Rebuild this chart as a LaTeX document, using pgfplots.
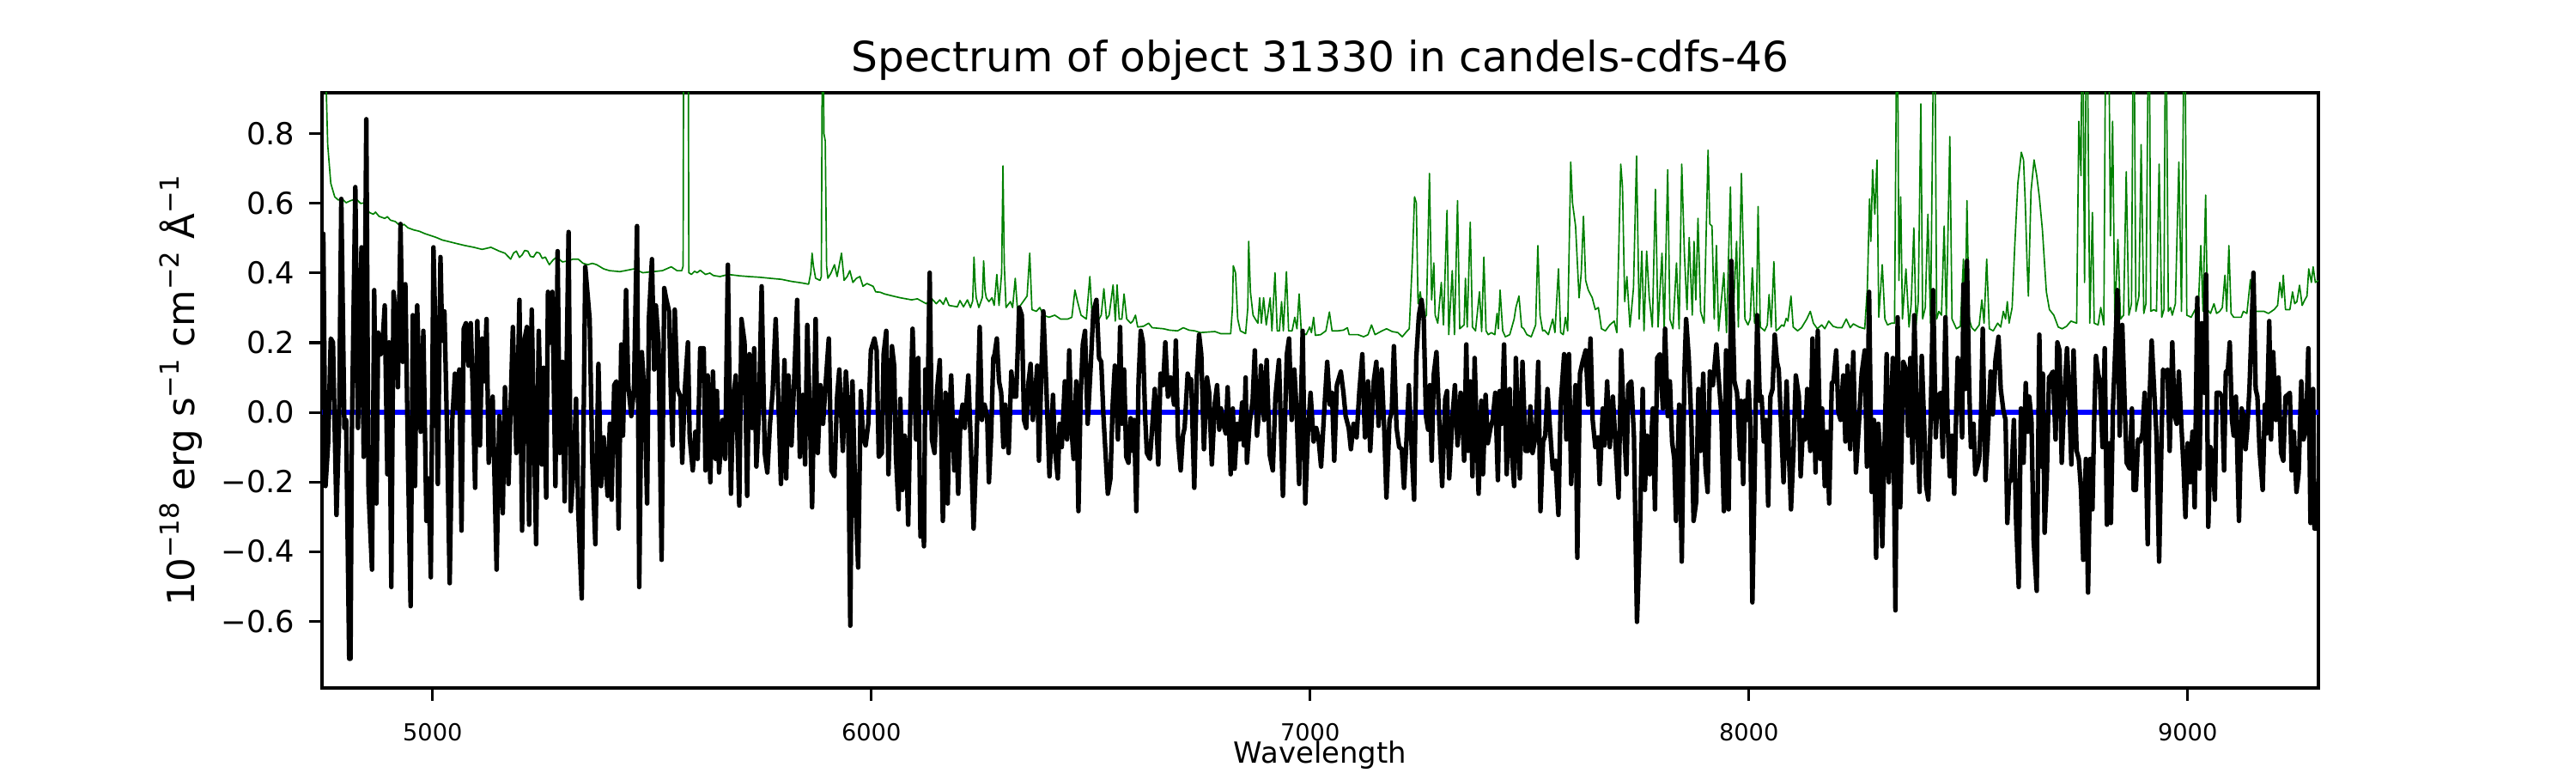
\documentclass[border=0pt]{standalone}
\usepackage{fontspec}
\setmainfont{DejaVu Sans}
\usepackage{pgfplots}
\pgfplotsset{compat=1.18}
\definecolor{mplgreen}{rgb}{0,0.5,0}
\newcommand\sups[1]{\raisebox{0.42em}{\fontsize{11}{11}\selectfont #1}}
\begin{document}
\begin{tikzpicture}
\path[use as bounding box] (-135pt,-35.64pt) rectangle (945pt,288.36pt);
\begin{axis}[
  at={(0,0)}, anchor=south west, scale only axis,
  width=837pt, height=249.48pt,
  xmin=4748, xmax=9298, ymin=-0.792, ymax=0.918,
  axis line style={line width=1.1pt},
  tick align=outside, tick pos=left,
  major tick length=5.4pt,
  every tick/.style={black, line width=1.1pt},
  xtick={5000,6000,7000,8000,9000},
  xticklabels={5000,6000,7000,8000,9000},
  ytick={-0.6,-0.4,-0.2,0,0.2,0.4,0.6,0.8},
  yticklabels={−0.6,−0.4,−0.2,0.0,0.2,0.4,0.6,0.8},
  xticklabel style={font=\fontsize{9.8}{10}\selectfont, anchor=base, inner sep=0pt, yshift=-16.6pt},
  yticklabel style={font=\fontsize{12.7}{13}\selectfont, anchor=east, inner sep=0pt, xshift=-5.8pt},
  title={Spectrum of object 31330 in candels-cdfs-46},
  title style={at={(axis description cs:0.5,1)}, anchor=base, yshift=2.8pt, font=\fontsize{17.5}{20}\selectfont},
  xlabel={Wavelength},
  xlabel style={at={(axis description cs:0.5,0)}, anchor=base, yshift=-31.6pt, font=\fontsize{12.2}{14}\selectfont},
  ylabel={10\sups{−18} erg s\sups{−1} cm\sups{−2} Å\sups{−1}},
  ylabel style={at={(axis description cs:-0.0637,0.5)}, anchor=base, font=\fontsize{15.7}{18}\selectfont},
  clip=true,
]
% green (error / sky) spectrum
\addplot[mplgreen, line width=0.6pt, line join=round] coordinates {
(4748,1.3)(4758,0.914)(4761,0.769)(4768,0.658)(4777,0.619)(4785,0.610)(4794,0.613)(4803,0.602)(4813,0.608)(4826,0.613)(4836,0.600)(4846,0.602)(4851,0.585)(4856,0.574)(4865,0.569)(4870,0.575)(4878,0.563)(4891,0.557)(4897,0.562)(4904,0.552)(4915,0.548)(4927,0.535)(4935,0.540)(4944,0.530)(4957,0.524)(4970,0.520)(4983,0.513)(4995,0.508)(5009,0.502)(5022,0.495)(5035,0.491)(5054,0.485)(5074,0.479)(5094,0.474)(5113,0.468)(5133,0.474)(5152,0.463)(5165,0.457)(5178,0.440)(5185,0.458)(5191,0.463)(5198,0.445)(5204,0.452)(5210,0.465)(5217,0.463)(5223,0.448)(5230,0.446)(5237,0.460)(5244,0.457)(5250,0.442)(5257,0.446)(5266,0.424)(5275,0.438)(5283,0.446)(5296,0.432)(5309,0.435)(5320,0.440)(5332,0.440)(5343,0.428)(5354,0.424)(5364,0.428)(5374,0.424)(5390,0.412)(5403,0.407)
(5427,0.404)(5459,0.412)(5479,0.401)(5510,0.405)(5524,0.407)(5544,0.418)(5557,0.407)(5568,0.407)(5571,0.42)(5573,1.5)(5582,1.5)(5584,0.401)(5590,0.396)(5597,0.405)(5603,0.401)(5610,0.408)(5622,0.396)(5632,0.400)(5640,0.393)(5655,0.390)(5674,0.396)(5700,0.392)(5720,0.390)(5745,0.388)(5769,0.385)(5795,0.382)(5818,0.376)(5840,0.372)(5857,0.368)(5862,0.400)(5865,0.457)(5868,0.42)(5873,0.385)(5883,0.379)(5886,0.390)(5889,1.3)(5892,0.80)(5895,0.78)(5898,0.42)(5901,0.385)(5908,0.40)(5916,0.424)(5922,0.390)(5932,0.457)(5938,0.379)(5945,0.39)(5951,0.407)(5958,0.373)(5966,0.385)(5974,0.390)(5981,0.362)(5990,0.37)(6004,0.362)(6010,0.346)(6020,0.345)(6030,0.340)(6049,0.334)
(6066,0.329)(6092,0.323)(6105,0.326)(6125,0.312)(6138,0.326)(6148,0.312)(6156,0.323)(6164,0.310)(6170,0.329)(6177,0.307)(6196,0.303)(6202,0.321)(6210,0.303)(6219,0.323)(6226,0.301)(6231,0.32)(6234,0.446)(6237,0.36)(6239,0.329)(6245,0.301)(6253,0.33)(6256,0.435)(6259,0.35)(6262,0.329)(6268,0.318)(6275,0.329)(6280,0.307)(6286,0.396)(6291,0.307)(6297,0.40)(6300,0.708)(6303,0.424)(6307,0.301)(6317,0.318)(6322,0.301)(6328,0.385)(6333,0.295)(6346,0.318)(6355,0.334)(6361,0.457)(6366,0.295)(6376,0.290)(6384,0.301)(6392,0.279)(6405,0.273)(6418,0.279)(6431,0.268)(6448,0.268)(6457,0.273)(6464,0.351)(6470,0.318)(6478,0.279)(6490,0.268)(6498,0.390)(6503,0.279)(6508,0.268)(6519,0.268)(6524,0.279)(6530,0.355)(6536,0.268)(6542,0.279)(6551,0.366)(6556,0.262)(6560,0.366)(6565,0.268)(6571,0.268)(6576,0.340)(6582,0.268)(6591,0.256)(6596,0.262)(6602,0.279)(6607,0.245)(6620,0.247)(6632,0.256)(6640,0.243)(6666,0.240)(6679,0.236)
(6698,0.234)(6711,0.243)(6724,0.236)(6737,0.234)(6750,0.229)(6783,0.232)(6796,0.226)(6819,0.226)(6823,0.30)(6825,0.421)(6830,0.401)(6835,0.268)(6841,0.234)(6853,0.226)(6858,0.30)(6860,0.491)(6864,0.346)(6870,0.279)(6875,0.268)(6881,0.256)(6885,0.329)(6889,0.256)(6894,0.329)(6900,0.251)(6909,0.329)(6913,0.234)(6920,0.401)(6925,0.234)(6930,0.234)(6935,0.318)(6939,0.234)(6946,0.404)(6951,0.234)(6959,0.234)(6965,0.273)(6970,0.240)(6975,0.340)(6980,0.229)(6991,0.223)(6999,0.245)(7003,0.229)(7008,0.273)(7012,0.221)(7024,0.223)(7036,0.234)(7044,0.288)(7050,0.234)(7063,0.234)(7076,0.236)(7085,0.243)(7089,0.223)(7109,0.223)(7122,0.217)(7132,0.223)(7140,0.251)(7148,0.223)(7161,0.232)(7174,0.240)(7187,0.232)(7200,0.229)(7210,0.217)(7220,0.232)(7226,0.240)(7233,0.435)(7238,0.619)(7242,0.602)(7246,0.312)(7251,0.346)(7259,0.268)(7265,0.279)(7272,0.686)(7277,0.323)(7282,0.429)(7285,0.279)(7291,0.256)(7299,0.373)(7304,0.251)(7312,0.580)(7316,0.223)(7324,0.407)(7329,0.223)(7336,0.608)
(7341,0.240)(7351,0.251)(7354,0.385)(7358,0.245)(7365,0.546)(7370,0.245)(7377,0.234)(7386,0.346)(7391,0.232)(7396,0.446)(7401,0.234)(7406,0.223)(7413,0.229)(7421,0.223)(7426,0.284)(7429,0.240)(7433,0.351)(7439,0.234)(7445,0.217)(7455,0.223)(7465,0.268)(7469,0.301)(7476,0.334)(7482,0.245)(7487,0.240)(7494,0.223)(7504,0.217)(7514,0.251)(7519,0.479)(7524,0.279)(7530,0.234)(7534,0.236)(7543,0.223)(7553,0.268)(7558,0.229)(7566,0.412)(7571,0.229)(7577,0.223)(7582,0.273)(7587,0.234)(7594,0.719)(7598,0.602)(7605,0.535)(7613,0.329)(7618,0.401)(7623,0.563)(7628,0.379)(7634,0.351)(7643,0.329)(7650,0.295)(7657,0.301)(7664,0.240)(7673,0.234)(7683,0.251)(7693,0.262)(7699,0.229)(7708,0.713)(7712,0.647)(7717,0.318)(7722,0.390)(7729,0.245)(7737,0.357)(7744,0.736)(7750,0.268)(7756,0.463)(7761,0.234)(7767,0.463)(7773,0.329)(7780,0.245)(7787,0.641)(7793,0.245)(7802,0.457)(7807,0.234)(7815,0.697)(7820,0.268)(7827,0.240)(7835,0.429)(7841,0.240)(7847,0.713)(7853,0.457)(7859,0.295)(7864,0.502)(7871,0.279)(7875,0.491)(7879,0.323)(7884,0.557)(7890,0.290)(7898,0.256)(7907,0.753)(7911,0.541)(7916,0.535)(7921,0.268)(7926,0.479)(7931,0.234)(7943,0.401)(7949,0.229)(7958,0.647)(7963,0.245)(7972,0.491)(7976,0.245)(7983,0.686)
(7991,0.268)(7998,0.251)(8003,0.268)(8008,0.415)(8013,0.256)(8017,0.268)(8021,0.591)(8026,0.245)(8036,0.234)(8042,0.251)(8046,0.338)(8051,0.245)(8057,0.433)(8062,0.234)(8068,0.240)(8075,0.251)(8080,0.247)(8085,0.270)(8089,0.262)(8096,0.334)(8101,0.245)(8111,0.234)(8120,0.243)(8132,0.268)(8140,0.290)(8147,0.256)(8156,0.240)(8166,0.251)(8173,0.240)(8182,0.262)(8192,0.247)(8202,0.243)(8212,0.243)(8222,0.268)(8231,0.243)(8238,0.254)(8251,0.245)(8264,0.240)(8270,0.357)(8275,0.613)(8278,0.491)(8282,0.697)(8287,0.569)(8292,0.725)(8296,0.273)(8304,0.424)(8310,0.268)(8316,0.251)(8325,0.256)(8332,0.256)(8338,1.3)(8342,0.379)(8346,0.619)(8350,0.268)(8358,0.412)(8365,0.245)(8370,0.312)(8376,0.530)(8381,0.251)(8386,0.318)(8392,0.886)(8396,0.268)(8402,0.301)(8408,0.569)(8414,0.256)(8423,1.3)(8428,0.268)(8433,0.290)(8439,0.279)(8445,0.535)(8450,0.268)(8458,0.792)(8463,0.268)(8473,0.240)(8482,0.247)(8489,0.440)(8493,0.256)(8497,0.608)(8502,0.268)(8508,0.243)(8515,0.234)(8525,0.251)(8531,0.323)(8536,0.256)(8542,0.440)(8548,0.240)(8557,0.234)(8567,0.256)(8574,0.245)(8580,0.290)(8585,0.268)(8589,0.318)(8593,0.256)(8600,0.301)(8606,0.479)(8613,0.658)(8621,0.747)(8626,0.725)(8630,0.60)(8634,0.43)(8637,0.334)(8643,0.635)(8650,0.725)(8656,0.680)(8662,0.619)(8669,0.524)(8674,0.424)(8678,0.346)(8685,0.295)(8695,0.279)(8705,0.245)(8714,0.240)(8724,0.247)(8734,0.262)(8747,0.256)
(8752,0.836)(8757,0.680)(8760,1.3)(8765,0.373)(8770,1.3)(8777,0.256)(8783,0.574)(8787,0.256)(8796,0.251)(8802,0.301)(8809,0.251)(8814,1.3)(8819,1.3)(8824,0.507)(8829,0.836)(8834,0.268)(8841,0.496)(8847,0.268)(8854,0.279)(8860,0.691)(8866,0.279)(8872,0.312)(8877,1.3)(8882,0.290)(8889,0.334)(8894,0.769)(8900,0.284)(8905,0.312)(8912,1.3)(8916,0.290)(8923,0.295)(8929,0.290)(8935,0.713)(8941,0.273)(8946,0.295)(8950,1.3)(8956,0.290)(8961,0.301)(8965,0.279)(8972,0.312)(8980,0.719)(8986,0.290)(8993,1.3)(8998,0.279)(9008,0.273)(9017,0.295)(9024,0.290)(9030,0.479)(9035,0.290)(9041,0.624)(9045,0.295)(9052,0.284)(9060,0.312)(9066,0.284)(9073,0.290)(9079,0.301)(9085,0.394)(9089,0.290)(9094,0.479)(9099,0.284)(9105,0.273)(9115,0.273)(9122,0.273)(9127,0.290)(9135,0.284)(9143,0.381)(9148,0.312)(9152,0.290)(9164,0.290)(9174,0.290)(9184,0.284)(9197,0.295)(9205,0.307)(9210,0.373)(9215,0.329)(9218,0.394)(9223,0.295)(9233,0.295)(9239,0.346)(9244,0.312)(9249,0.318)(9255,0.365)(9261,0.307)(9267,0.323)(9272,0.334)(9276,0.412)(9282,0.373)(9286,0.418)(9291,0.373)(9298,0.379)
};
% blue model (zero)
\addplot[blue, line width=2pt] coordinates {(4748,0) (9298,0)};
% black observed spectrum
\addplot[black, line width=1.9pt, line join=round] coordinates {
(4748,0.513)(4751,0.513)(4756,-0.212)(4762,-0.089)(4768,0.212)(4773,0.201)(4781,-0.295)(4787,-0.033)(4792,0.613)(4799,-0.045)(4803,-0.022)(4810,-0.708)(4813,-0.708)(4816,-0.067)(4824,0.647)(4830,-0.045)(4838,0.474)(4843,-0.128)(4849,0.842)(4854,-0.223)(4862,-0.452)(4867,0.351)(4872,-0.262)(4876,0.229)(4882,0.167)(4886,0.201)(4891,0.307)(4897,-0.178)(4901,0.201)(4906,-0.502)(4911,0.346)(4916,0.279)(4921,0.072)(4927,0.541)(4932,0.145)(4938,0.368)(4944,-0.139)(4950,-0.557)(4955,0.279)(4960,-0.212)(4965,0.307)(4973,-0.056)(4979,0.234)(4986,-0.312)(4991,-0.190)(4996,-0.474)(5002,0.474)(5007,0.201)(5012,-0.206)(5018,0.446)(5022,0.206)(5027,0.290)(5033,-0.05)(5039,-0.491)(5045,-0.022)(5051,0.111)(5056,0.011)(5061,0.123)(5066,-0.340)(5071,0.240)(5076,0.256)(5082,0.134)(5087,0.256)(5092,0.045)(5097,-0.217)(5102,0.262)(5108,-0.095)(5113,0.212)(5118,0.089)(5123,0.268)(5128,-0.145)(5137,0.045)(5146,-0.452)(5152,-0.011)(5160,-0.290)(5165,0.072)(5173,-0.206)(5183,0.245)(5191,-0.117)(5198,0.323)(5204,-0.340)(5210,0.212)(5215,0.245)(5220,-0.323)(5226,0.295)(5236,-0.379)(5242,0.234)(5249,-0.150)(5253,0.128)(5259,-0.245)(5263,0.346)(5268,0.2)(5273,0.346)(5280,-0.212)(5285,0.463)(5290,-0.117)(5296,0.145)(5301,-0.256)(5310,0.518)(5315,-0.284)(5322,-0.150)(5327,0.039)(5332,-0.284)(5340,-0.535)(5348,0.418)(5358,0.268)(5364,-0.139)(5371,-0.379)(5378,0.139)(5384,-0.212)(5390,-0.072)(5399,-0.240)
(5404,-0.033)(5408,-0.251)(5414,0.078)(5419,0.089)(5424,-0.334)(5430,0.195)(5434,-0.067)(5441,0.351)(5446,0.078)(5453,-0.011)(5459,0.067)(5466,0.535)(5471,-0.502)(5477,0.173)(5483,0.045)(5489,-0.262)(5493,0.268)(5500,0.440)(5505,0.123)(5509,0.307)(5515,0.201)(5522,-0.424)(5528,0.357)(5532,0.329)(5539,0.290)(5543,0.061)(5547,-0.095)(5552,0.295)(5558,0.067)(5565,0.045)(5569,-0.145)(5575,0.067)(5582,0.201)(5586,-0.072)(5593,-0.167)(5599,-0.056)(5604,-0.134)(5610,0.184)(5618,0.184)(5622,-0.167)(5627,0.106)(5633,-0.201)(5639,0.117)(5645,-0.134)(5648,0.061)(5653,-0.173)(5661,-0.022)(5667,-0.134)(5673,0.424)(5680,-0.234)(5685,0.033)(5691,0.106)(5699,-0.268)(5704,0.268)(5711,0.201)(5717,-0.240)(5722,0.167)(5728,-0.045)(5733,0.184)(5738,-0.156)(5744,0.006)(5750,0.362)(5757,-0.117)(5763,-0.173)(5769,-0.033)(5775,0.056)(5782,0.268)(5788,0.045)(5794,-0.206)(5802,0.150)(5806,-0.190)(5811,0.106)(5818,-0.095)(5824,0.089)(5831,0.323)(5837,-0.128)(5844,0.050)(5849,-0.150)(5854,0.251)(5860,-0.011)(5865,-0.273)(5873,0.268)(5878,-0.117)(5884,0.078)(5890,-0.033)(5896,0.084)(5903,0.212)(5909,-0.167)(5916,-0.184)(5922,0.045)(5927,0.123)(5935,-0.111)(5942,0.117)(5947,0.017)(5952,-0.613)(5957,0.089)(5963,-0.223)(5970,-0.446)(5976,0.061)(5981,-0.072)(5987,-0.095)(5993,-0.033)(5999,0.178)(6007,0.212)(6012,0.178)(6017,-0.128)(6024,-0.117)(6028,0.167)(6034,0.234)(6039,-0.178)
(6047,0.190)(6052,0.134)(6056,-0.123)(6062,-0.279)(6066,0.039)(6071,-0.223)(6076,-0.067)(6080,-0.123)(6084,-0.323)(6089,0.011)(6094,0.240)(6099,0.045)(6102,-0.078)(6107,0.156)(6112,-0.357)(6117,-0.290)(6120,-0.385)(6123,0.123)(6128,0.011)(6133,0.401)(6138,-0.078)(6144,-0.117)(6150,0.067)(6156,0.150)(6163,-0.312)(6169,0.056)(6174,-0.262)(6178,-0.011)(6182,0.106)(6189,-0.167)(6193,-0.022)(6198,-0.234)(6203,-0.022)(6208,0.022)(6213,-0.045)(6221,0.106)(6227,-0.100)(6233,-0.334)(6239,-0.123)(6247,0.245)(6252,-0.022)(6258,0.022)(6264,-0.011)(6268,-0.201)(6273,-0.067)(6278,0.156)(6281,0.167)(6286,0.212)(6291,0.089)(6296,0.056)(6301,-0.100)(6305,0.022)(6313,-0.117)(6319,0.117)(6325,0.045)(6330,0.045)(6337,0.301)(6343,0.279)(6348,-0.022)(6353,-0.045)(6358,0.084)(6363,0.139)(6368,-0.022)(6373,0.045)(6378,0.134)(6382,-0.139)(6388,0.134)(6392,0.290)(6399,0.067)(6406,-0.184)(6414,0.050)(6418,-0.100)(6425,-0.190)(6429,-0.033)(6434,-0.100)(6441,0.089)(6446,-0.078)(6451,0.178)(6456,-0.045)(6461,-0.134)(6467,0.089)(6472,-0.284)(6477,0.045)(6482,0.195)(6487,0.234)(6493,-0.033)(6500,0.134)(6506,0.290)(6513,0.323)(6519,0.156)(6524,0.145)(6529,-0.011)(6534,-0.123)(6539,-0.234)(6545,-0.190)(6550,0.022)(6555,0.134)(6562,-0.078)(6567,0.245)(6571,-0.033)(6576,0.123)(6581,-0.128)(6586,-0.145)(6591,-0.017)(6596,-0.111)(6599,-0.022)(6604,-0.284)(6609,0.089)(6614,0.234)(6619,0.201)(6624,-0.011)(6628,-0.117)(6635,-0.134)(6640,-0.045)(6646,0.067)(6654,-0.150)(6659,0.111)(6665,0.078)(6670,0.201)(6676,0.045)(6682,0.100)(6690,0.022)
(6694,0.206)(6699,-0.078)(6705,-0.167)(6710,-0.067)(6714,-0.045)(6721,0.111)(6725,0.089)(6729,0.095)(6736,-0.217)(6742,0.111)(6747,0.223)(6752,0.167)(6758,-0.106)(6765,0.100)(6770,0.056)(6776,-0.150)(6783,0.028)(6788,0.078)(6793,-0.050)(6797,0.011)(6802,-0.033)(6808,-0.061)(6812,0.072)(6819,-0.178)(6824,0.011)(6828,-0.162)(6834,-0.033)(6839,-0.078)(6845,0.028)(6849,-0.095)(6853,0.100)(6856,-0.145)(6862,-0.033)(6869,0.033)(6874,0.178)(6879,-0.067)(6884,0.011)(6888,0.134)(6895,-0.022)(6901,0.150)(6908,-0.123)(6915,-0.167)(6921,0.045)(6929,0.150)(6938,-0.240)(6943,-0.011)(6947,0.167)(6952,0.212)(6958,-0.022)(6964,0.123)(6969,0.011)(6975,-0.206)(6983,0.234)(6989,-0.262)(6995,-0.061)(7001,0.056)(7008,-0.084)(7014,-0.045)(7019,-0.072)(7025,-0.156)(7031,-0.022)(7039,0.145)(7045,0.022)(7050,0.056)(7055,-0.139)(7061,0.078)(7070,0.117)(7076,0.056)(7081,-0.011)(7088,-0.045)(7093,-0.106)(7099,-0.033)(7106,-0.072)(7112,0.056)(7119,0.167)(7125,-0.072)(7132,0.089)(7137,-0.111)(7145,0.089)(7151,0.145)(7156,-0.039)(7163,0.123)(7169,-0.050)(7174,-0.245)(7181,-0.022)(7186,0)(7191,0.190)(7197,-0.045)(7203,-0.100)(7209,-0.106)(7214,-0.217)(7220,-0.072)(7225,0.078)(7231,-0.089)(7237,-0.251)(7242,0.156)(7248,0.279)(7254,0.323)(7259,0.268)(7264,-0.011)(7269,-0.050)(7273,0.078)(7277,-0.139)(7282,0.111)(7288,0.173)(7295,-0.045)(7301,-0.212)(7308,0.039)(7312,0.061)(7317,-0.190)(7324,-0.022)(7330,0.078)(7336,-0.095)
(7339,-0.045)(7343,0.056)(7347,-0.011)(7351,-0.139)(7356,0.195)(7360,-0.111)(7365,0.089)(7370,-0.184)(7375,0.156)(7380,-0.067)(7384,-0.234)(7390,0.033)(7394,-0.178)(7400,0.050)(7405,-0.089)(7411,-0.045)(7416,-0.022)(7422,0.056)(7428,-0.195)(7432,0.061)(7437,-0.033)(7442,0.195)(7448,-0.178)(7455,0.067)(7459,-0.100)(7465,-0.212)(7469,0.156)(7474,-0.045)(7478,-0.190)(7484,0.145)(7491,-0.111)(7497,-0.111)(7502,0.017)(7507,-0.117)(7514,-0.067)(7520,0.145)(7525,-0.284)(7531,-0.084)(7536,-0.067)(7541,0.067)(7546,-0.033)(7553,-0.162)(7559,-0.139)(7566,-0.295)(7571,0.022)(7579,0.167)(7584,-0.078)(7590,0.167)(7595,-0.206)(7600,-0.067)(7605,0.078)(7609,-0.418)(7615,0.111)(7621,0.145)(7628,0.178)(7634,0.022)(7639,0.212)(7644,-0.022)(7650,-0.100)(7656,-0.072)(7660,-0.206)(7667,0.011)(7671,-0.095)(7677,0.089)(7683,-0.100)(7690,0.045)(7696,-0.089)(7703,-0.245)(7709,0.178)(7716,-0.056)(7721,-0.178)(7725,0.078)(7732,0.089)(7738,-0.067)(7745,-0.602)(7752,-0.329)(7758,0.067)(7763,-0.223)(7768,-0.067)(7774,-0.178)(7781,0.011)(7786,-0.279)(7791,0.156)(7797,0.167)(7804,0.011)(7809,0.240)(7815,-0.011)(7820,0.089)(7825,-0.084)(7830,-0.134)(7834,-0.312)(7841,0.022)(7847,-0.429)(7853,0.111)(7857,0.268)(7863,0.156)(7869,-0.033)(7874,-0.312)(7880,-0.256)(7885,0.067)(7890,-0.111)(7896,0.111)(7901,-0.156)(7906,-0.229)(7911,0.117)(7918,0.078)(7926,0.195)(7931,0.100)(7937,0)(7943,-0.284)(7948,0.178)(7954,-0.279)(7960,0.435)(7967,0.089)(7973,0.056)(7980,-0.134)
(7982,0.033)(7987,-0.206)(7991,0.033)(7995,-0.022)(7999,0.089)(8003,-0.022)(8008,-0.546)(8013,-0.190)(8019,0.279)(8025,0.033)(8029,0.045)(8034,-0.084)(8039,-0.022)(8044,-0.268)(8049,0.045)(8054,0.067)(8059,0.223)(8064,0.145)(8068,0.123)(8073,-0.022)(8079,-0.201)(8086,0.089)(8091,-0.111)(8096,-0.279)(8102,-0.100)(8107,0.106)(8114,0.045)(8118,-0.184)(8124,-0.022)(8128,-0.078)(8133,0.067)(8140,-0.111)(8145,0.212)(8152,-0.173)(8157,0.234)(8163,-0.134)(8167,0.011)(8173,-0.212)(8178,-0.056)(8183,-0.262)(8189,0.084)(8193,0.089)(8199,0.178)(8204,0)(8209,-0.022)(8215,0.106)(8220,-0.084)(8225,0.134)(8231,-0.106)(8238,0.173)(8244,-0.173)(8251,-0.028)(8257,0.111)(8264,0.178)(8269,-0.156)(8274,0.346)(8280,-0.229)(8285,-0.022)(8290,-0.418)(8295,-0.033)(8300,-0.134)(8304,-0.385)(8310,-0.056)(8314,0.167)(8319,-0.201)(8324,-0.011)(8328,0.156)(8334,-0.569)(8339,0.273)(8345,-0.273)(8352,0.145)(8358,0.123)(8363,-0.067)(8368,0.156)(8373,-0.145)(8377,0.279)(8383,-0.011)(8389,-0.229)(8394,0.162)(8400,-0.056)(8404,-0.212)(8409,-0.251)(8414,-0.033)(8420,0.351)(8426,-0.072)(8430,0.045)(8437,0.056)(8442,-0.128)(8448,0.273)(8453,-0.033)(8458,-0.184)(8463,-0.067)(8468,-0.234)(8473,0.022)(8476,0.156)(8481,0.089)(8486,-0.072)(8489,0.368)(8493,0.067)(8497,0.435)(8502,0.078)(8506,-0.100)(8512,-0.033)(8516,-0.178)(8520,-0.162)(8525,-0.134)(8529,-0.011)(8533,0.240)(8539,-0.195)(8544,-0.089)(8551,0.117)(8556,-0.006)(8562,0.150)(8569,0.217)(8574,0.067)(8580,0.006)(8585,-0.022)(8589,-0.318)(8593,-0.201)(8598,-0.195)(8604,-0.022)(8609,-0.312)(8615,-0.502)(8620,0.011)
(8626,-0.145)(8631,0.084)(8635,-0.056)(8639,0.045)(8644,-0.022)(8649,-0.368)(8656,-0.513)(8662,0.223)(8667,-0.156)(8670,0.111)(8674,-0.346)(8679,-0.190)(8684,0.100)(8688,0.106)(8693,0.117)(8699,-0.078)(8703,0.201)(8708,0.178)(8713,-0.145)(8718,0.022)(8725,0.184)(8730,0.045)(8735,-0.150)(8740,0.178)(8747,-0.111)(8752,-0.134)(8757,-0.223)(8762,-0.424)(8768,-0.134)(8773,-0.518)(8778,-0.134)(8783,-0.279)(8787,-0.022)(8791,0.162)(8796,0.111)(8800,0.089)(8806,-0.100)(8811,0.184)(8816,-0.323)(8821,-0.089)(8825,-0.318)(8830,0.022)(8835,0.178)(8840,0.351)(8845,-0.067)(8851,0.251)(8856,0.045)(8861,-0.145)(8868,-0.162)(8873,0.011)(8877,-0.223)(8882,-0.223)(8887,-0.078)(8892,-0.084)(8897,-0.061)(8902,0.056)(8909,-0.379)(8913,0.033)(8918,0.206)(8924,0.056)(8929,-0.067)(8935,-0.429)(8941,-0.045)(8944,0.123)(8949,0.111)(8954,0.123)(8959,-0.111)(8965,0.201)(8970,-0.006)(8975,-0.033)(8980,0.117)(8986,-0.045)(8991,-0.167)(8995,-0.301)(9000,-0.089)(9005,-0.201)(9011,-0.056)(9016,-0.273)(9022,0.329)(9027,-0.162)(9032,0.256)(9038,0.056)(9042,0.396)(9047,-0.329)(9052,-0.100)(9057,-0.134)(9062,-0.251)(9066,0.056)(9073,0.056)(9078,0.045)(9083,-0.167)(9087,0.117)(9091,0.111)(9096,0.201)(9101,-0.022)(9105,-0.067)(9110,0.045)(9117,-0.312)(9123,0.011)(9128,-0.011)(9132,-0.106)(9136,-0.045)(9141,0.072)(9150,0.401)(9155,0.067)(9159,0.045)(9164,-0.111)(9171,-0.223)(9176,0.022)(9180,-0.061)(9186,0.262)(9190,-0.078)(9195,0.173)(9201,-0.022)(9207,0.100)(9213,-0.117)(9218,-0.139)(9223,0.045)(9228,0.050)(9233,0.056)(9237,-0.167)(9242,-0.056)(9248,-0.229)(9253,-0.173)(9259,0.089)(9264,-0.078)(9270,-0.045)(9275,0.184)(9280,-0.318)(9286,0.067)(9289,-0.334)(9293,-0.334)(9298,-0.2)
};
\end{axis}
\end{tikzpicture}
\end{document}
